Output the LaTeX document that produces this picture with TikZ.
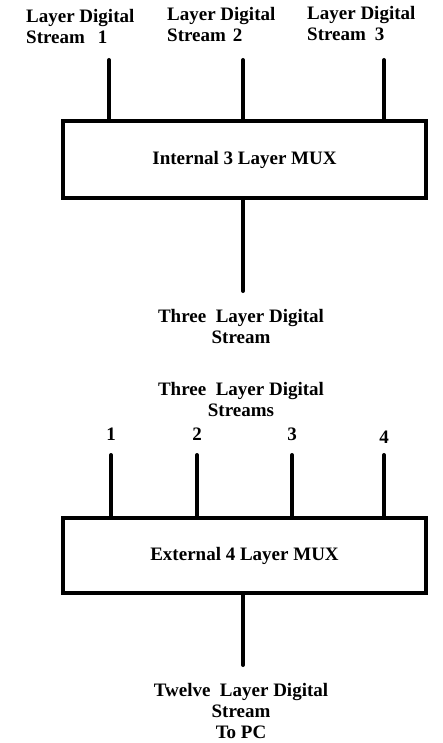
\documentclass[tikz,border=0pt]{standalone}
\usepackage{fontspec}
\setmainfont{Liberation Serif}
\usepackage{tikz}
\usetikzlibrary{positioning}

\begin{document}
\begin{tikzpicture}[x=1pt, y=-1pt,
    muxbox/.style={draw, line width=4pt, inner sep=0pt, minimum width=363pt,
      font=\fontsize{19}{21}\selectfont\bfseries},
    wire/.style={line width=4pt, line cap=round},
    lbl/.style={inner sep=0pt, font=\fontsize{19}{21}\selectfont\bfseries}]
  \useasboundingbox (0,0) rectangle (443,743);
  % internal mux
  \node[muxbox, minimum height=77pt] (imux) at (244.5,159.5) {Internal 3 Layer MUX};
  \node[lbl, align=left, anchor=base west] (ls1) at (26,43.5) {Layer Digital\\Stream\hspace{13pt}1};
  \node[lbl, align=left, anchor=base west] (ls2) at (167,42) {Layer Digital\\Stream\hspace{7pt}2};
  \node[lbl, align=left, anchor=base west] (ls3) at (307,41) {Layer Digital\\Stream\hspace{9pt}3};
  \foreach \n/\x in {1/109, 2/243, 3/384} {
    \coordinate (li\n) at (\x,60);
    \draw[wire] (li\n) -- (imux.north -| li\n);
  }
  \coordinate (tout) at (243,291);
  \draw[wire] (imux.south -| tout) -- (tout);
  \node[lbl, align=center, anchor=base] (tls) at (241,343) {Three\ \ Layer Digital\\Stream};
  % external mux
  \node[lbl, align=center, anchor=base] (tlss) at (241,416) {Three\ \ Layer Digital\\Streams};
  \node[muxbox, minimum height=75pt] (emux) at (244.5,555.5) {External 4 Layer MUX};
  \foreach \n/\x/\b in {1/111/440, 2/197/440, 3/292/440, 4/384/443} {
    \node[lbl, anchor=base] (num\n) at (\x,\b) {\n};
    \coordinate (ei\n) at (\x,455);
    \draw[wire] (ei\n) -- (emux.north -| ei\n);
  }
  \coordinate (eout) at (243,665);
  \draw[wire] (emux.south -| eout) -- (eout);
  \node[lbl, align=center, anchor=base] (tws) at (241,738) {Twelve\ \ Layer Digital\\Stream\\To PC};
\end{tikzpicture}
\end{document}
